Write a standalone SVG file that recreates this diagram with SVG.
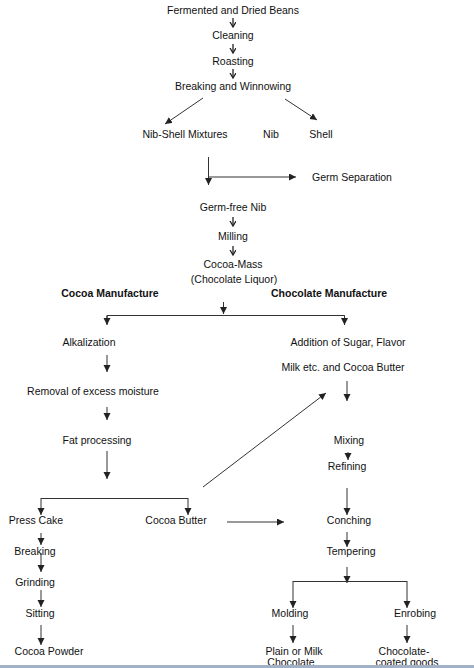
<svg xmlns="http://www.w3.org/2000/svg" width="474" height="668" viewBox="0 0 474 668">
<defs>
<style>
text{font-family:"Liberation Sans",Arial,sans-serif;font-size:10.5px;fill:#111;text-anchor:middle}
.b{font-weight:bold}
.s{text-anchor:start}
.c line,.c path{stroke:#333;stroke-width:1;fill:none}
.c .a{marker-end:url(#ah)}
.c line.m{marker-end:url(#sm);stroke-width:1.3;stroke:#222}
</style>
<marker id="ah" markerUnits="userSpaceOnUse" markerWidth="8" markerHeight="8" refX="7" refY="3.5" orient="auto"><path d="M0,0 L7,3.5 L0,7 z" fill="#222"/></marker>
<marker id="sm" markerUnits="userSpaceOnUse" markerWidth="8" markerHeight="8" refX="5" refY="3" orient="auto"><path d="M0,0 L5,3 L0,6" fill="none" stroke="#222" stroke-width="1.3"/></marker>
</defs>
<rect width="474" height="668" fill="#fff"/>
<g class="c" id="connectors">
<line class="m" x1="233" y1="18" x2="233" y2="27"/>
<line class="m" x1="233" y1="44" x2="233" y2="53"/>
<line class="m" x1="233" y1="69" x2="233" y2="78"/>
<line class="a" x1="203" y1="98" x2="165" y2="124"/>
<line class="a" x1="285" y1="99" x2="317" y2="120"/>
<line class="a" x1="208.5" y1="157" x2="208.5" y2="185"/>
<line class="a" x1="209" y1="177" x2="296" y2="177"/>
<line class="m" x1="233" y1="217" x2="233" y2="226"/>
<line class="m" x1="233" y1="246" x2="233" y2="255"/>
<line class="a" x1="223.5" y1="302" x2="223.5" y2="314"/>
<path d="M107,324 V315.5 H344.5 V324"/>
<line class="a" x1="107" y1="315.5" x2="107" y2="325"/>
<line class="a" x1="344.5" y1="315.5" x2="344.5" y2="325"/>
<line class="a" x1="107" y1="355" x2="107" y2="372"/>
<line class="a" x1="107" y1="407" x2="107" y2="420"/>
<line class="a" x1="107" y1="451" x2="107" y2="479"/>
<line class="a" x1="347" y1="381" x2="347" y2="401"/>
<line class="a" x1="203" y1="487" x2="326" y2="393"/>
<line class="a" x1="348" y1="452" x2="348" y2="460"/>
<path d="M41,498.5 H188"/>
<line class="a" x1="41" y1="498" x2="41" y2="515"/>
<line class="a" x1="188" y1="498" x2="188" y2="515"/>
<line class="a" x1="227" y1="522" x2="284" y2="522"/>
<line class="a" x1="41" y1="533" x2="41" y2="545"/>
<line class="a" x1="41" y1="553" x2="41" y2="572"/>
<line class="a" x1="41" y1="590" x2="41" y2="607"/>
<line class="a" x1="41" y1="625" x2="41" y2="645"/>
<line class="a" x1="347" y1="488" x2="347" y2="515"/>
<line class="a" x1="347" y1="532" x2="347" y2="547"/>
<line class="a" x1="347" y1="567" x2="347" y2="583"/>
<path d="M293,581.5 H407"/>
<line class="a" x1="293" y1="581" x2="293" y2="608"/>
<line class="a" x1="407" y1="581" x2="407" y2="608"/>
<line class="a" x1="293" y1="625" x2="293" y2="643"/>
<line class="a" x1="407" y1="625" x2="407" y2="643"/>
</g>
<g id="n-beans"><text x="233" y="14">Fermented and Dried Beans</text></g>
<g id="n-cleaning"><text x="233" y="39">Cleaning</text></g>
<g id="n-roasting"><text x="233" y="65">Roasting</text></g>
<g id="n-breaking-winnowing"><text x="233" y="90">Breaking and Winnowing</text></g>
<g id="n-nibshell"><text x="185" y="138">Nib-Shell Mixtures</text></g>
<g id="n-nib"><text x="271" y="138">Nib</text></g>
<g id="n-shell"><text x="321" y="138">Shell</text></g>
<g id="n-germsep"><text class="s" x="312" y="181">Germ Separation</text></g>
<g id="n-germfree"><text x="233" y="211">Germ-free Nib</text></g>
<g id="n-milling"><text x="233" y="240">Milling</text></g>
<g id="n-cocoamass"><text x="233" y="268">Cocoa-Mass</text><text x="234" y="283">(Chocolate Liquor)</text></g>
<g id="n-cocoa-manuf"><text class="b" x="110" y="297">Cocoa Manufacture</text></g>
<g id="n-choc-manuf"><text class="b s" x="271" y="297">Chocolate  Manufacture</text></g>
<g id="n-alkalization"><text x="89" y="346">Alkalization</text></g>
<g id="n-removal"><text x="93" y="395">Removal of excess moisture</text></g>
<g id="n-fat"><text x="97" y="444">Fat processing</text></g>
<g id="n-addition"><text x="348" y="346">Addition of Sugar, Flavor</text><text x="343" y="371">Milk etc.  and Cocoa Butter</text></g>
<g id="n-mixing"><text x="349" y="444">Mixing</text></g>
<g id="n-refining"><text x="347" y="470">Refining</text></g>
<g id="n-presscake"><text x="36" y="524">Press Cake</text></g>
<g id="n-cocoabutter"><text x="176" y="524">Cocoa Butter</text></g>
<g id="n-breaking"><text x="35" y="555">Breaking</text></g>
<g id="n-grinding"><text x="35" y="586">Grinding</text></g>
<g id="n-sitting"><text x="40" y="617">Sitting</text></g>
<g id="n-powder"><text x="49" y="655">Cocoa Powder</text></g>
<g id="n-conching"><text x="349" y="524">Conching</text></g>
<g id="n-tempering"><text x="351" y="555">Tempering</text></g>
<g id="n-molding"><text x="290" y="617">Molding</text></g>
<g id="n-enrobing"><text x="415" y="617">Enrobing</text></g>
<g id="n-plain"><text x="294" y="655">Plain or Milk</text><text x="291" y="666">Chocolate</text></g>
<g id="n-coated"><text x="404" y="655">Chocolate-</text><text x="407" y="666">coated goods</text></g>
<rect x="0" y="665" width="474" height="3" fill="#a3b1c6"/>
</svg>
